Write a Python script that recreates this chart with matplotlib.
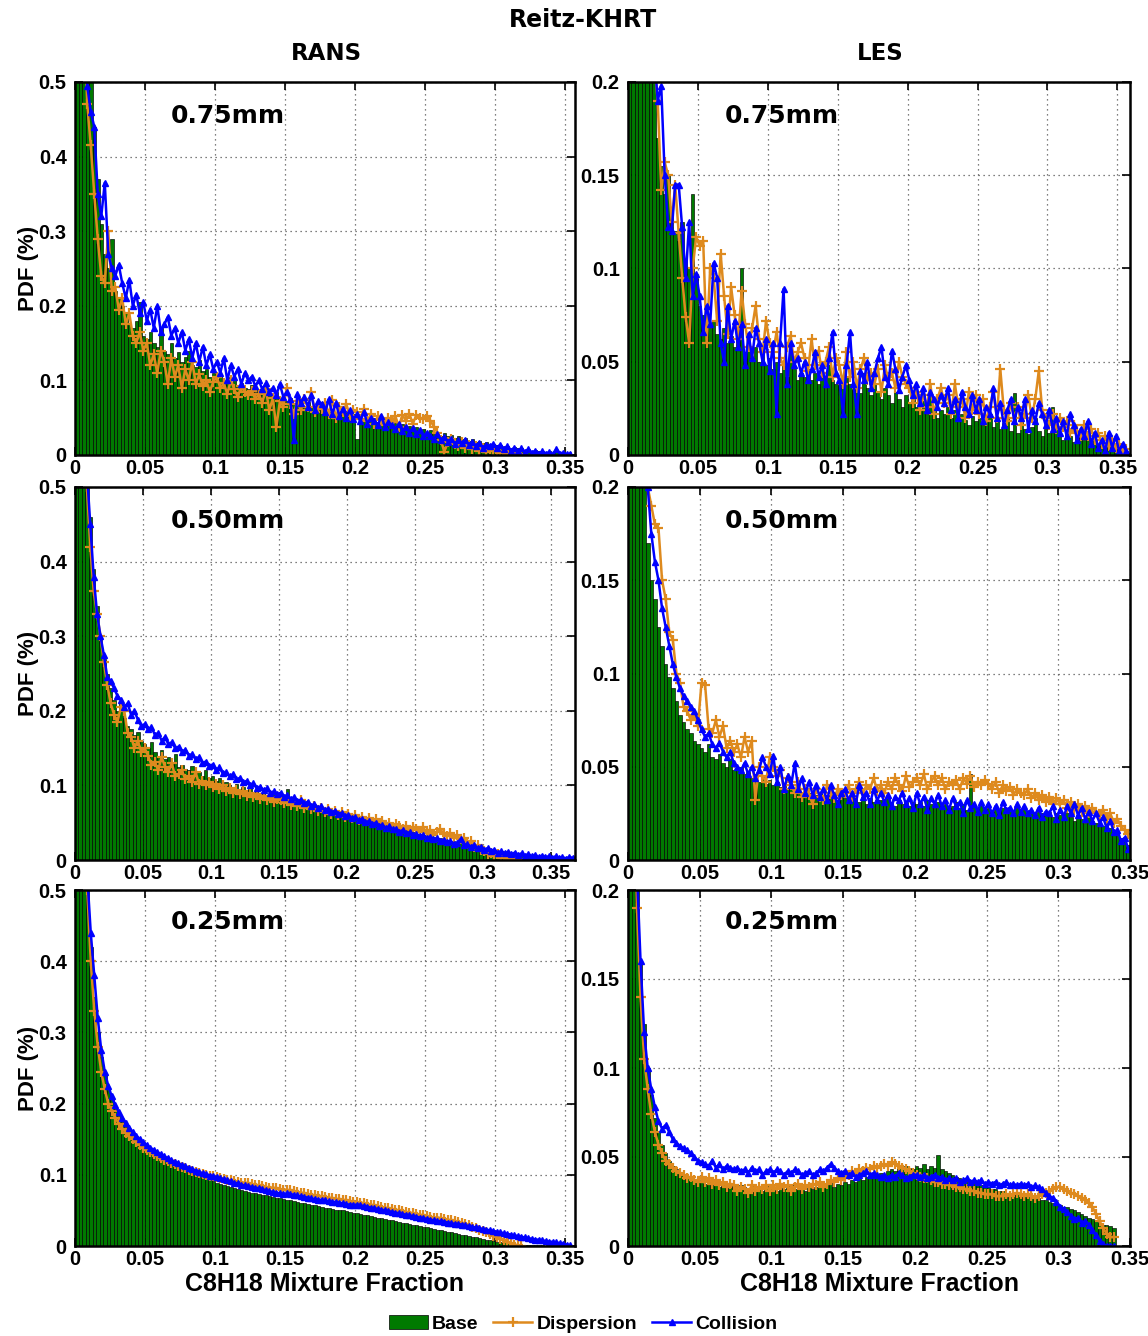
import numpy as np
import matplotlib
matplotlib.use("Agg")
import matplotlib.pyplot as plt
from matplotlib.patches import Patch
from matplotlib.lines import Line2D

# ---------------- data (PDF values in thousandths) ----------------
bin_width = 0.0025
series_names = ["Base", "Dispersion", "Collision"]
col_titles = ["RANS", "LES"]
row_labels = ["0.75mm", "0.50mm", "0.25mm"]

x_ticks = [0, 0.05, 0.1, 0.15, 0.2, 0.25, 0.3, 0.35]
x_tick_labels = ["0", "0.05", "0.1", "0.15", "0.2", "0.25", "0.3", "0.35"]
rans_y_ticks = [0, 0.1, 0.2, 0.3, 0.4, 0.5]
rans_y_labels = ["0", "0.1", "0.2", "0.3", "0.4", "0.5"]
les_y_ticks = [0, 0.05, 0.1, 0.15, 0.2]
les_y_labels = ["0", "0.05", "0.1", "0.15", "0.2"]
x_limits = {"RANS": [0.357, 0.368, 0.357], "LES": [0.359, 0.350, 0.339]}

# RANS 0.75mm
rans_075_base = [900,800,700,600,520,440,370,310,270,250,
                 290,220,210,200,190,175,170,180,205,160,
                 155,165,150,145,170,140,135,150,130,138,
                 125,132,140,120,118,128,112,115,105,110,
                 102,108,98,104,95,100,92,96,90,88,
                 94,85,88,82,86,80,78,84,75,77,
                 72,76,70,74,68,66,71,64,67,62,
                 65,60,58,62,56,59,54,57,52,55,
                 22,53,48,51,46,49,44,47,42,45,
                 40,43,38,41,36,39,34,37,32,35,
                 30,33,28,31,26,29,25,27,23,25,
                 21,23,19,21,17,19,16,17,14,15,
                 13,14,11,12,10,11,9,9,7,8,
                 6,7,5,6,4,5,3,4,3,3,
                 2,2]
rans_075_disp = [900,750,600,470,415,350,290,240,230,300,
                 220,225,195,210,175,190,160,150,165,140,
                 150,120,135,110,140,125,95,130,105,120,
                 90,115,100,125,95,108,92,100,85,98,
                 105,90,96,82,100,88,78,92,84,80,
                 86,75,82,70,88,60,76,37,72,65,
                 90,68,55,72,60,75,64,85,58,66,
                 62,70,55,74,50,65,58,68,52,60,
                 58,48,62,45,55,42,52,48,40,50,
                 44,52,38,54,46,55,42,54,50,48,
                 52,46,38,30,20,4,18,22,15,12,
                 18,10,14,8,12,6,10,4,8,5,
                 6,3,5,2,3,1,2,0]
rans_075_coll = [900,700,560,495,460,440,350,320,365,270,
                 250,240,255,230,210,235,200,215,190,205,
                 180,195,170,200,165,175,185,160,170,150,
                 165,140,155,130,150,125,145,120,135,115,
                 125,110,130,100,120,105,115,95,110,100,
                 105,92,100,88,96,84,90,80,95,78,
                 85,75,20,82,70,78,65,80,60,72,
                 68,58,75,55,70,52,62,50,60,48,
                 55,45,58,42,50,46,40,52,38,44,
                 40,35,42,32,38,30,36,28,34,25,
                 30,26,22,28,20,24,18,22,15,20,
                 16,20,14,18,12,16,10,14,12,15,
                 10,14,8,12,6,10,5,9,4,8,
                 3,6,2,5,2,4,1,8,2,3,
                 1,2]

# LES 0.75mm
les_075_base = [600,480,400,330,280,240,215,200,170,155,
                140,150,130,120,115,125,105,100,140,95,
                80,75,70,68,72,65,62,68,60,64,
                58,62,100,55,60,52,58,50,54,48,
                52,46,50,44,48,42,55,46,40,44,
                42,46,40,44,38,42,36,48,40,38,
                40,36,42,38,35,40,33,44,36,32,
                38,34,30,36,32,28,34,30,26,32,
                28,30,26,24,29,22,33,25,20,24,
                22,26,20,24,18,22,19,16,21,18,
                20,16,18,22,15,19,14,17,20,13,
                33,12,18,14,11,15,20,13,10,14,
                12,26,16,11,8,13,10,7,11,9,
                8,12,6,9,5,8,6,4,7,3,
                4,2,2]
les_075_disp = [600,500,420,360,300,260,230,210,190,142,
                157,150,125,145,119,95,74,60,100,117,
                112,115,60,100,95,72,108,85,65,90,
                75,62,88,70,58,68,80,62,55,72,
                60,55,66,52,48,58,64,50,55,60,
                52,45,62,48,56,44,50,58,42,52,
                48,38,55,42,50,36,46,52,40,44,
                38,46,34,48,40,44,36,50,42,38,
                36,28,34,24,32,26,38,22,30,36,
                28,32,22,38,26,30,20,34,24,32,
                22,30,18,26,34,20,46,24,18,28,
                20,26,16,22,32,20,30,45,24,20,
                16,22,14,20,15,18,12,16,13,10,
                16,10,14,8,12,6,10,5,8,4,
                6,2,3]
les_075_coll = [600,500,420,360,300,260,230,215,190,198,
                150,122,120,145,145,122,95,125,85,97,
                85,66,80,70,103,95,60,50,80,62,
                72,58,70,48,65,52,68,60,50,62,
                45,60,22,60,89,38,60,48,52,44,
                50,40,46,55,42,48,38,52,66,44,
                40,22,48,66,38,22,45,40,50,36,
                44,52,58,42,38,56,46,35,42,48,
                40,32,38,28,36,24,34,30,26,32,
                28,36,24,30,20,34,26,22,32,24,
                30,18,26,22,36,20,28,16,24,30,
                18,26,20,30,14,24,18,28,22,16,
                24,14,20,12,18,10,22,16,8,14,
                10,18,6,12,4,8,2,12,4,10,
                2,6,2]

# RANS 0.50mm
rans_050_base = [1200,900,700,560,460,390,340,300,270,250,
                 230,215,200,210,190,180,175,168,172,160,
                 155,150,158,145,140,148,135,138,130,142,
                 125,128,122,120,126,115,118,112,120,110,
                 112,106,110,102,104,100,98,102,95,98,
                 94,96,90,92,88,90,86,84,88,82,
                 80,84,95,78,76,80,74,72,76,70,
                 68,72,66,64,68,62,60,64,58,60,
                 56,58,54,52,55,50,48,52,46,48,
                 45,46,42,44,40,42,38,39,36,37,
                 34,35,32,33,30,31,28,29,26,27,
                 24,25,22,23,20,21,18,19,16,17,
                 14,15,12,13,11,12,9,10,8,8,
                 7,7,6,6,5,5,4,4,3,3,
                 3,2,2,2,1,1,1]
rans_050_disp = [1100,850,650,500,420,360,330,300,265,235,
                 210,195,185,205,200,170,165,150,160,145,
                 150,140,128,132,120,138,125,118,130,112,
                 115,120,108,112,104,118,102,106,100,105,
                 98,102,95,100,92,96,90,94,88,92,
                 86,90,84,88,82,86,80,84,78,82,
                 80,76,82,74,78,72,80,70,74,68,
                 72,66,70,64,68,62,66,60,64,58,
                 62,56,60,54,58,52,56,50,55,48,
                 52,46,50,44,48,45,42,46,40,44,
                 42,38,44,36,40,34,38,42,35,32,
                 36,30,33,28,30,22,25,18,20,14,
                 12,8,10,5,8,3,5,2,3,1,
                 1]
rans_050_coll = [1200,900,700,520,450,380,330,300,275,245,
                 240,230,220,215,205,210,195,200,188,180,
                 182,175,178,168,170,160,165,155,158,150,
                 152,145,148,140,142,135,138,130,132,126,
                 128,120,124,116,118,112,115,108,110,104,
                 106,100,103,96,98,94,96,90,92,88,
                 90,85,87,82,84,79,81,76,78,73,
                 75,70,72,67,69,64,66,62,63,59,
                 60,56,58,53,55,51,52,48,50,46,
                 47,43,45,41,42,38,40,36,37,34,
                 35,32,33,30,31,28,29,26,27,24,
                 25,22,23,28,20,21,18,20,16,18,
                 14,16,12,14,10,12,9,11,8,10,
                 7,9,6,8,5,7,4,6,4,5,
                 3,5,3,4,2,4,3]

# LES 0.50mm
les_050_base = [700,500,350,260,205,170,150,140,125,115,
                105,98,92,85,78,74,70,68,64,62,
                60,58,62,55,54,57,52,50,54,48,
                48,50,46,47,44,46,42,45,41,43,
                40,42,39,41,38,40,37,39,36,38,
                36,37,35,36,34,35,33,35,32,34,
                33,34,32,33,31,34,30,33,31,32,
                32,30,33,31,29,32,30,31,29,31,
                30,31,29,32,30,28,31,29,30,28,
                29,31,28,30,27,46,29,28,30,27,
                28,26,29,27,28,26,27,25,28,26,
                27,25,26,24,26,25,24,26,23,25,
                24,22,25,23,21,24,22,20,23,21,
                20,19,18,20,17,15,14,12,10,8]
les_050_disp = [700,500,380,290,230,200,190,180,178,150,
                140,122,118,100,95,82,80,75,78,72,
                95,94,70,68,75,66,72,60,64,58,
                62,55,66,58,64,32,50,45,42,55,
                50,45,48,38,44,40,36,42,34,38,
                35,30,38,34,32,40,36,33,38,35,
                36,40,34,38,42,36,40,38,44,37,
                40,36,42,38,44,40,37,45,39,42,
                44,40,46,38,42,45,40,44,38,42,
                40,43,38,44,41,45,39,42,40,43,
                41,38,42,36,40,37,39,35,38,36,
                35,38,33,36,32,35,31,34,30,33,
                30,32,28,31,27,30,26,29,25,28,
                26,24,27,22,25,20,22,18,16,14]
les_050_coll = [700,500,380,290,235,200,175,160,150,135,
                125,115,105,98,92,88,85,82,80,75,
                70,66,68,62,60,63,58,55,58,52,
                50,48,52,46,50,44,48,55,50,46,
                56,42,50,38,45,40,52,38,44,36,
                42,35,40,34,38,32,40,35,30,36,
                38,32,36,30,40,34,36,30,38,32,
                36,31,35,29,34,32,36,30,33,28,
                36,30,34,27,33,30,35,29,32,27,
                33,29,31,25,32,28,30,26,31,27,
                30,25,29,24,31,27,28,25,30,26,
                29,25,27,24,28,23,26,25,29,22,
                27,23,29,25,30,24,28,22,26,21,
                25,20,23,17,21,15,16,10,12,6]

# RANS 0.25mm
rans_025_base = [1500,1000,700,520,420,350,300,265,240,220,
                 205,192,182,174,167,160,154,149,144,140,
                 136,132,129,126,123,120,117,115,112,110,
                 108,106,104,102,100,98,96,94,93,91,
                 89,87,86,84,83,81,80,78,77,76,
                 75,74,73,72,71,70,69,68,67,66,
                 65,64,63,62,61,60,59,58,57,56,
                 55,54,53,52,51,50,50,49,48,47,
                 46,45,44,43,42,41,40,39,38,37,
                 36,35,34,33,32,31,30,29,28,27,
                 26,25,24,23,22,21,20,19,18,17,
                 16,15,14,13,12,11,10,9,8,7,
                 6,5,5,4,4,3,3,2,2,1,
                 1,1,1,1,0,0,0,0,0,0,
                 0,0]
rans_025_disp = [1500,1000,700,500,400,330,280,245,220,200,
                 190,180,172,165,159,154,150,146,142,138,
                 135,132,129,126,124,121,119,117,115,113,
                 111,109,107,105,104,102,101,100,99,98,
                 97,96,94,93,92,91,90,89,89,88,
                 87,86,85,84,83,82,82,81,80,79,
                 79,78,77,76,75,74,73,72,71,70,
                 70,69,68,67,66,66,65,64,63,62,
                 62,61,60,59,58,57,56,55,54,53,
                 52,51,50,49,48,47,46,45,44,43,
                 42,41,40,40,39,38,37,36,35,34,
                 33,31,29,27,25,23,21,19,17,14,
                 12,10,8,6,4,2,1,0]
rans_025_coll = [1500,1000,720,520,440,380,320,275,245,225,
                 210,198,188,180,173,166,160,155,150,146,
                 142,138,135,132,129,126,123,121,118,116,
                 114,112,110,108,106,104,102,101,99,98,
                 97,95,94,92,91,89,88,86,85,84,
                 83,82,81,80,78,77,76,75,74,73,
                 74,73,72,71,70,69,68,67,66,65,
                 65,64,63,62,62,61,60,59,58,58,
                 58,57,56,55,54,53,52,51,50,49,
                 48,47,46,45,44,43,42,41,40,39,
                 38,37,36,35,35,34,33,32,31,31,
                 30,29,28,27,26,25,24,23,22,21,
                 20,19,18,17,16,15,14,13,12,11,
                 10,9,9,8,7,6,6,5,4,3,
                 2,1]

# LES 0.25mm
les_025_base = [500,300,210,160,125,100,85,72,64,57,
                52,48,45,43,41,40,38,39,37,36,
                36,35,37,34,35,33,36,34,33,35,
                32,34,33,31,34,32,33,31,34,32,
                33,31,34,32,33,35,32,34,33,31,
                34,32,33,35,33,34,36,33,35,34,
                36,35,37,36,38,37,39,38,40,39,
                41,40,42,43,42,44,43,45,44,43,
                45,44,46,43,45,44,51,43,42,41,
                40,39,38,37,36,36,35,34,34,33,
                33,32,32,31,31,30,30,29,30,29,
                29,28,28,27,27,26,26,25,24,24,
                23,22,22,21,20,19,18,17,16,15,
                14,13,12,12,11,10]
les_025_disp = [480,280,190,140,105,88,74,64,57,52,
                48,46,44,42,41,40,38,39,37,36,
                39,36,38,35,37,34,36,33,35,34,
                31,33,32,30,34,31,33,32,34,31,
                34,32,35,33,34,31,33,35,32,34,
                33,35,34,36,33,35,37,36,38,37,
                39,40,42,41,43,42,44,43,45,44,
                45,46,45,47,46,45,44,43,42,41,
                40,39,38,38,37,36,36,35,35,34,
                34,33,33,32,32,31,31,30,30,29,
                29,29,28,28,28,29,28,29,30,29,
                28,29,28,27,28,29,30,31,32,33,
                33,32,31,30,29,28,27,26,24,22,
                18,14,10,7,5,5]
les_025_coll = [500,320,210,160,120,100,88,78,70,66,
                68,64,60,58,56,55,54,52,50,48,
                47,46,45,48,44,46,43,45,44,43,
                44,42,43,41,44,42,43,40,42,43,
                41,43,42,40,42,41,43,42,40,41,
                42,40,41,43,42,44,46,44,42,41,
                42,40,41,39,40,41,42,40,41,40,
                39,40,38,40,39,41,40,38,39,40,
                40,39,40,38,39,40,38,39,37,38,
                37,38,36,37,38,36,37,36,37,35,
                36,35,36,34,35,36,34,35,34,35,
                34,35,33,34,33,32,30,28,27,25,
                22,21,19,17,15,16,13,14,12,9,
                6,3,1,0,0,0]

panels = [
    ("RANS", 0, rans_075_base, rans_075_disp, rans_075_coll),
    ("LES", 0, les_075_base, les_075_disp, les_075_coll),
    ("RANS", 1, rans_050_base, rans_050_disp, rans_050_coll),
    ("LES", 1, les_050_base, les_050_disp, les_050_coll),
    ("RANS", 2, rans_025_base, rans_025_disp, rans_025_coll),
    ("LES", 2, les_025_base, les_025_disp, les_025_coll),
]

# ---------------- styling ----------------
green = "#007a00"
orange = "#DE8A1E"
blue = "#0000FF"
tick_font = "Liberation Sans"
head_font = "DejaVu Sans"

fig = plt.figure(figsize=(11.48, 13.36), dpi=100)
W, H = 1148.0, 1336.0
col_left = {"RANS": 75, "LES": 628}
col_right = {"RANS": 575, "LES": 1130}
row_top = [82, 487, 890]
row_bot = [455, 860, 1246]

for kind, row, base, disp, coll in panels:
    l, r = col_left[kind], col_right[kind]
    t, b = row_top[row], row_bot[row]
    ax = fig.add_axes([l / W, 1 - b / H, (r - l) / W, (b - t) / H])
    base = np.array(base) / 1000.0
    disp = np.array(disp) / 1000.0
    coll = np.array(coll) / 1000.0
    xb = (np.arange(len(base)) + 0.5) * bin_width
    xd = (np.arange(len(disp)) + 0.5) * bin_width
    xc = (np.arange(len(coll)) + 0.5) * bin_width
    ax.bar(xb, base, width=bin_width, color=green, edgecolor="black",
           linewidth=0.45, zorder=2)
    ax.plot(xd, disp, color=orange, lw=1.8, marker="+", ms=7, mew=1.6, zorder=3)
    ax.plot(xc, coll, color=blue, lw=1.8, marker="^", ms=5, mfc=blue,
            mec=blue, zorder=4)
    ax.set_xlim(0, x_limits[kind][row])
    if kind == "RANS":
        ax.set_ylim(0, 0.5)
        ax.set_yticks(rans_y_ticks)
        ax.set_yticklabels(rans_y_labels)
        ax.set_ylabel("PDF (%)", fontsize=16, fontweight="bold",
                      family=tick_font, labelpad=0)
    else:
        ax.set_ylim(0, 0.2)
        ax.set_yticks(les_y_ticks)
        ax.set_yticklabels(les_y_labels)
    ax.set_xticks(x_ticks)
    ax.set_xticklabels(x_tick_labels)
    ax.grid(True, linestyle=(0, (1, 3)), color="#555555", linewidth=0.9, zorder=0)
    ax.set_axisbelow(True)
    ax.tick_params(direction="in", top=True, right=True, length=6, width=1.2,
                   labelsize=14.5)
    ax.tick_params(axis="x", pad=3)
    ax.tick_params(axis="y", pad=6)
    for lab in ax.get_xticklabels() + ax.get_yticklabels():
        lab.set_fontweight("bold")
        lab.set_family(tick_font)
    for sp in ax.spines.values():
        sp.set_linewidth(1.8)
        sp.set_zorder(5)
    ax.text(0.306, 0.91, row_labels[row], transform=ax.transAxes,
            ha="center", va="center", fontsize=18, fontweight="bold",
            family=head_font, zorder=6)
    if row == 2:
        ax.set_xlabel("C8H18 Mixture Fraction", fontsize=18, fontweight="bold",
                      family=tick_font, labelpad=2)

fig.text(583 / W, 1 - 20 / H, "Reitz-KHRT", ha="center", va="center",
         fontsize=17, fontweight="bold", family=head_font)
fig.text(326 / W, 1 - 53 / H, col_titles[0], ha="center", va="center",
         fontsize=16.5, fontweight="bold", family=head_font)
fig.text(880 / W, 1 - 53 / H, col_titles[1], ha="center", va="center",
         fontsize=16.5, fontweight="bold", family=head_font)

handles = [
    Patch(facecolor=green, edgecolor="black", linewidth=0.5),
    Line2D([], [], color=orange, lw=1.8, marker="+", ms=7, mew=1.6),
    Line2D([], [], color=blue, lw=1.8, marker="^", ms=5),
]
fig.legend(handles, series_names, loc="center", bbox_to_anchor=(583 / W, 1 - 1324 / H),
           ncol=3, frameon=False, handlelength=2.0, handletextpad=0.2,
           columnspacing=0.8, prop={"family": tick_font, "weight": "bold", "size": 14})

fig.savefig("out.png", dpi=100)
